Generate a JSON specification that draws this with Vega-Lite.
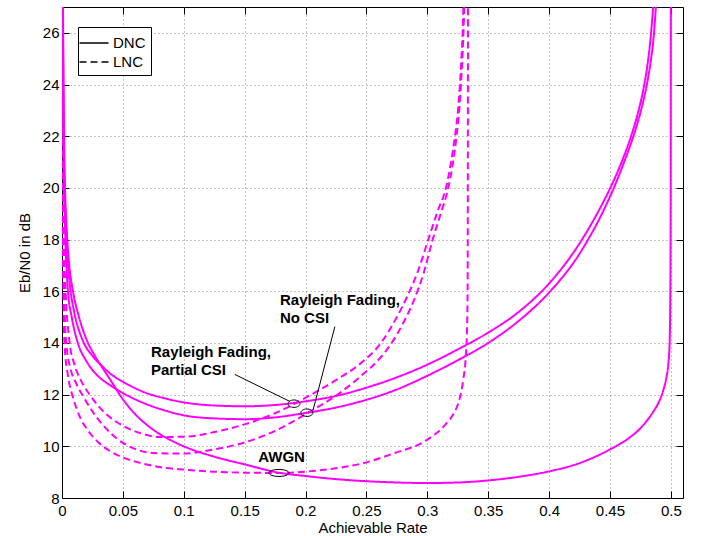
{
  "$schema": "https://vega.github.io/schema/vega-lite/v6.json",
  "width": 621,
  "height": 491,
  "autosize": {"type": "none"},
  "padding": {"left": 62, "top": 7, "right": 21, "bottom": 38},
  "background": "white",
  "datasets": {
    "curves": [
      {"s": "AWGN DNC", "t": "DNC", "x": 0.0008, "y": 27},
      {"s": "AWGN DNC", "t": "DNC", "x": 0.002, "y": 21.0},
      {"s": "AWGN DNC", "t": "DNC", "x": 0.004, "y": 18.3},
      {"s": "AWGN DNC", "t": "DNC", "x": 0.006, "y": 17.0},
      {"s": "AWGN DNC", "t": "DNC", "x": 0.009, "y": 16.0},
      {"s": "AWGN DNC", "t": "DNC", "x": 0.014, "y": 15.0},
      {"s": "AWGN DNC", "t": "DNC", "x": 0.02, "y": 14.15},
      {"s": "AWGN DNC", "t": "DNC", "x": 0.027, "y": 13.5},
      {"s": "AWGN DNC", "t": "DNC", "x": 0.034, "y": 12.98},
      {"s": "AWGN DNC", "t": "DNC", "x": 0.04, "y": 12.55},
      {"s": "AWGN DNC", "t": "DNC", "x": 0.05, "y": 11.82},
      {"s": "AWGN DNC", "t": "DNC", "x": 0.06, "y": 11.25},
      {"s": "AWGN DNC", "t": "DNC", "x": 0.07, "y": 10.82},
      {"s": "AWGN DNC", "t": "DNC", "x": 0.08, "y": 10.48},
      {"s": "AWGN DNC", "t": "DNC", "x": 0.09, "y": 10.22},
      {"s": "AWGN DNC", "t": "DNC", "x": 0.1, "y": 10.0},
      {"s": "AWGN DNC", "t": "DNC", "x": 0.125, "y": 9.6},
      {"s": "AWGN DNC", "t": "DNC", "x": 0.15, "y": 9.3},
      {"s": "AWGN DNC", "t": "DNC", "x": 0.178, "y": 8.98},
      {"s": "AWGN DNC", "t": "DNC", "x": 0.2, "y": 8.85},
      {"s": "AWGN DNC", "t": "DNC", "x": 0.225, "y": 8.73},
      {"s": "AWGN DNC", "t": "DNC", "x": 0.25, "y": 8.65},
      {"s": "AWGN DNC", "t": "DNC", "x": 0.275, "y": 8.6},
      {"s": "AWGN DNC", "t": "DNC", "x": 0.3, "y": 8.58},
      {"s": "AWGN DNC", "t": "DNC", "x": 0.325, "y": 8.6},
      {"s": "AWGN DNC", "t": "DNC", "x": 0.35, "y": 8.68},
      {"s": "AWGN DNC", "t": "DNC", "x": 0.375, "y": 8.82},
      {"s": "AWGN DNC", "t": "DNC", "x": 0.4, "y": 9.03},
      {"s": "AWGN DNC", "t": "DNC", "x": 0.425, "y": 9.35},
      {"s": "AWGN DNC", "t": "DNC", "x": 0.45, "y": 9.88},
      {"s": "AWGN DNC", "t": "DNC", "x": 0.465, "y": 10.3},
      {"s": "AWGN DNC", "t": "DNC", "x": 0.475, "y": 10.7},
      {"s": "AWGN DNC", "t": "DNC", "x": 0.485, "y": 11.3},
      {"s": "AWGN DNC", "t": "DNC", "x": 0.49, "y": 11.7},
      {"s": "AWGN DNC", "t": "DNC", "x": 0.494, "y": 12.2},
      {"s": "AWGN DNC", "t": "DNC", "x": 0.4965, "y": 12.7},
      {"s": "AWGN DNC", "t": "DNC", "x": 0.498, "y": 13.2},
      {"s": "AWGN DNC", "t": "DNC", "x": 0.499, "y": 14.0},
      {"s": "AWGN DNC", "t": "DNC", "x": 0.4996, "y": 16.0},
      {"s": "AWGN DNC", "t": "DNC", "x": 0.4999, "y": 20.0},
      {"s": "AWGN DNC", "t": "DNC", "x": 0.5, "y": 27},

      {"s": "Partial DNC", "t": "DNC", "x": 0.0006, "y": 27},
      {"s": "Partial DNC", "t": "DNC", "x": 0.0015, "y": 21.5},
      {"s": "Partial DNC", "t": "DNC", "x": 0.003, "y": 18.7},
      {"s": "Partial DNC", "t": "DNC", "x": 0.005, "y": 17.0},
      {"s": "Partial DNC", "t": "DNC", "x": 0.0071, "y": 16.0},
      {"s": "Partial DNC", "t": "DNC", "x": 0.01, "y": 15.2},
      {"s": "Partial DNC", "t": "DNC", "x": 0.017, "y": 14.1},
      {"s": "Partial DNC", "t": "DNC", "x": 0.025, "y": 13.5},
      {"s": "Partial DNC", "t": "DNC", "x": 0.033, "y": 13.1},
      {"s": "Partial DNC", "t": "DNC", "x": 0.04, "y": 12.8},
      {"s": "Partial DNC", "t": "DNC", "x": 0.05, "y": 12.5},
      {"s": "Partial DNC", "t": "DNC", "x": 0.06, "y": 12.25},
      {"s": "Partial DNC", "t": "DNC", "x": 0.07, "y": 12.05},
      {"s": "Partial DNC", "t": "DNC", "x": 0.085, "y": 11.85},
      {"s": "Partial DNC", "t": "DNC", "x": 0.1, "y": 11.7},
      {"s": "Partial DNC", "t": "DNC", "x": 0.125, "y": 11.58},
      {"s": "Partial DNC", "t": "DNC", "x": 0.15, "y": 11.55},
      {"s": "Partial DNC", "t": "DNC", "x": 0.175, "y": 11.6},
      {"s": "Partial DNC", "t": "DNC", "x": 0.2, "y": 11.74},
      {"s": "Partial DNC", "t": "DNC", "x": 0.225, "y": 11.95},
      {"s": "Partial DNC", "t": "DNC", "x": 0.25, "y": 12.27},
      {"s": "Partial DNC", "t": "DNC", "x": 0.275, "y": 12.67},
      {"s": "Partial DNC", "t": "DNC", "x": 0.3, "y": 13.16},
      {"s": "Partial DNC", "t": "DNC", "x": 0.325, "y": 13.75},
      {"s": "Partial DNC", "t": "DNC", "x": 0.35, "y": 14.4},
      {"s": "Partial DNC", "t": "DNC", "x": 0.375, "y": 15.2},
      {"s": "Partial DNC", "t": "DNC", "x": 0.4, "y": 16.3},
      {"s": "Partial DNC", "t": "DNC", "x": 0.425, "y": 17.85},
      {"s": "Partial DNC", "t": "DNC", "x": 0.44, "y": 19.05},
      {"s": "Partial DNC", "t": "DNC", "x": 0.45, "y": 19.97},
      {"s": "Partial DNC", "t": "DNC", "x": 0.46, "y": 21.05},
      {"s": "Partial DNC", "t": "DNC", "x": 0.467, "y": 21.95},
      {"s": "Partial DNC", "t": "DNC", "x": 0.473, "y": 22.9},
      {"s": "Partial DNC", "t": "DNC", "x": 0.478, "y": 23.95},
      {"s": "Partial DNC", "t": "DNC", "x": 0.4815, "y": 25.0},
      {"s": "Partial DNC", "t": "DNC", "x": 0.4838, "y": 26.0},
      {"s": "Partial DNC", "t": "DNC", "x": 0.4855, "y": 27},

      {"s": "NoCSI DNC", "t": "DNC", "x": 0.0005, "y": 27},
      {"s": "NoCSI DNC", "t": "DNC", "x": 0.0012, "y": 21.5},
      {"s": "NoCSI DNC", "t": "DNC", "x": 0.0025, "y": 18.5},
      {"s": "NoCSI DNC", "t": "DNC", "x": 0.0049, "y": 16.0},
      {"s": "NoCSI DNC", "t": "DNC", "x": 0.008, "y": 15.0},
      {"s": "NoCSI DNC", "t": "DNC", "x": 0.013, "y": 14.0},
      {"s": "NoCSI DNC", "t": "DNC", "x": 0.02, "y": 13.3},
      {"s": "NoCSI DNC", "t": "DNC", "x": 0.03, "y": 12.7},
      {"s": "NoCSI DNC", "t": "DNC", "x": 0.04, "y": 12.35},
      {"s": "NoCSI DNC", "t": "DNC", "x": 0.05, "y": 12.06},
      {"s": "NoCSI DNC", "t": "DNC", "x": 0.06, "y": 11.82},
      {"s": "NoCSI DNC", "t": "DNC", "x": 0.07, "y": 11.62},
      {"s": "NoCSI DNC", "t": "DNC", "x": 0.085, "y": 11.38},
      {"s": "NoCSI DNC", "t": "DNC", "x": 0.1, "y": 11.2},
      {"s": "NoCSI DNC", "t": "DNC", "x": 0.125, "y": 11.08},
      {"s": "NoCSI DNC", "t": "DNC", "x": 0.15, "y": 11.05},
      {"s": "NoCSI DNC", "t": "DNC", "x": 0.175, "y": 11.12},
      {"s": "NoCSI DNC", "t": "DNC", "x": 0.2, "y": 11.29},
      {"s": "NoCSI DNC", "t": "DNC", "x": 0.225, "y": 11.5},
      {"s": "NoCSI DNC", "t": "DNC", "x": 0.25, "y": 11.8},
      {"s": "NoCSI DNC", "t": "DNC", "x": 0.275, "y": 12.2},
      {"s": "NoCSI DNC", "t": "DNC", "x": 0.3, "y": 12.73},
      {"s": "NoCSI DNC", "t": "DNC", "x": 0.325, "y": 13.33},
      {"s": "NoCSI DNC", "t": "DNC", "x": 0.35, "y": 14.0},
      {"s": "NoCSI DNC", "t": "DNC", "x": 0.375, "y": 14.85},
      {"s": "NoCSI DNC", "t": "DNC", "x": 0.4, "y": 15.95},
      {"s": "NoCSI DNC", "t": "DNC", "x": 0.425, "y": 17.45},
      {"s": "NoCSI DNC", "t": "DNC", "x": 0.4308, "y": 17.9},
      {"s": "NoCSI DNC", "t": "DNC", "x": 0.445, "y": 19.15},
      {"s": "NoCSI DNC", "t": "DNC", "x": 0.4532, "y": 20.0},
      {"s": "NoCSI DNC", "t": "DNC", "x": 0.462, "y": 21.05},
      {"s": "NoCSI DNC", "t": "DNC", "x": 0.4696, "y": 22.05},
      {"s": "NoCSI DNC", "t": "DNC", "x": 0.4755, "y": 23.0},
      {"s": "NoCSI DNC", "t": "DNC", "x": 0.4803, "y": 24.0},
      {"s": "NoCSI DNC", "t": "DNC", "x": 0.4838, "y": 25.0},
      {"s": "NoCSI DNC", "t": "DNC", "x": 0.4862, "y": 26.0},
      {"s": "NoCSI DNC", "t": "DNC", "x": 0.4877, "y": 27},

      {"s": "Partial LNC", "t": "LNC", "x": 0.0002, "y": 27},
      {"s": "Partial LNC", "t": "LNC", "x": 0.0006, "y": 22.0},
      {"s": "Partial LNC", "t": "LNC", "x": 0.0012, "y": 19.0},
      {"s": "Partial LNC", "t": "LNC", "x": 0.0025, "y": 16.5},
      {"s": "Partial LNC", "t": "LNC", "x": 0.0063, "y": 14.0},
      {"s": "Partial LNC", "t": "LNC", "x": 0.01, "y": 13.2},
      {"s": "Partial LNC", "t": "LNC", "x": 0.015, "y": 12.6},
      {"s": "Partial LNC", "t": "LNC", "x": 0.0227, "y": 12.0},
      {"s": "Partial LNC", "t": "LNC", "x": 0.03, "y": 11.55},
      {"s": "Partial LNC", "t": "LNC", "x": 0.04, "y": 11.1},
      {"s": "Partial LNC", "t": "LNC", "x": 0.05, "y": 10.8},
      {"s": "Partial LNC", "t": "LNC", "x": 0.065, "y": 10.5},
      {"s": "Partial LNC", "t": "LNC", "x": 0.08, "y": 10.36},
      {"s": "Partial LNC", "t": "LNC", "x": 0.1, "y": 10.37},
      {"s": "Partial LNC", "t": "LNC", "x": 0.125, "y": 10.55},
      {"s": "Partial LNC", "t": "LNC", "x": 0.15, "y": 10.85},
      {"s": "Partial LNC", "t": "LNC", "x": 0.175, "y": 11.28},
      {"s": "Partial LNC", "t": "LNC", "x": 0.19, "y": 11.62},
      {"s": "Partial LNC", "t": "LNC", "x": 0.2, "y": 11.88},
      {"s": "Partial LNC", "t": "LNC", "x": 0.228, "y": 12.65},
      {"s": "Partial LNC", "t": "LNC", "x": 0.245, "y": 13.2},
      {"s": "Partial LNC", "t": "LNC", "x": 0.262, "y": 14.0},
      {"s": "Partial LNC", "t": "LNC", "x": 0.275, "y": 15.0},
      {"s": "Partial LNC", "t": "LNC", "x": 0.284, "y": 15.85},
      {"s": "Partial LNC", "t": "LNC", "x": 0.2925, "y": 16.8},
      {"s": "Partial LNC", "t": "LNC", "x": 0.3008, "y": 18.0},
      {"s": "Partial LNC", "t": "LNC", "x": 0.3085, "y": 19.1},
      {"s": "Partial LNC", "t": "LNC", "x": 0.3153, "y": 20.0},
      {"s": "Partial LNC", "t": "LNC", "x": 0.3195, "y": 21.0},
      {"s": "Partial LNC", "t": "LNC", "x": 0.3227, "y": 22.0},
      {"s": "Partial LNC", "t": "LNC", "x": 0.3252, "y": 23.0},
      {"s": "Partial LNC", "t": "LNC", "x": 0.3268, "y": 24.0},
      {"s": "Partial LNC", "t": "LNC", "x": 0.328, "y": 25.0},
      {"s": "Partial LNC", "t": "LNC", "x": 0.329, "y": 26.0},
      {"s": "Partial LNC", "t": "LNC", "x": 0.3296, "y": 27},

      {"s": "NoCSI LNC", "t": "LNC", "x": 0.0002, "y": 27},
      {"s": "NoCSI LNC", "t": "LNC", "x": 0.0005, "y": 22.0},
      {"s": "NoCSI LNC", "t": "LNC", "x": 0.001, "y": 18.5},
      {"s": "NoCSI LNC", "t": "LNC", "x": 0.002, "y": 15.6},
      {"s": "NoCSI LNC", "t": "LNC", "x": 0.0035, "y": 14.0},
      {"s": "NoCSI LNC", "t": "LNC", "x": 0.007, "y": 13.0},
      {"s": "NoCSI LNC", "t": "LNC", "x": 0.0115, "y": 12.45},
      {"s": "NoCSI LNC", "t": "LNC", "x": 0.0172, "y": 11.95},
      {"s": "NoCSI LNC", "t": "LNC", "x": 0.025, "y": 11.35},
      {"s": "NoCSI LNC", "t": "LNC", "x": 0.035, "y": 10.75},
      {"s": "NoCSI LNC", "t": "LNC", "x": 0.045, "y": 10.3},
      {"s": "NoCSI LNC", "t": "LNC", "x": 0.06, "y": 9.9},
      {"s": "NoCSI LNC", "t": "LNC", "x": 0.075, "y": 9.74},
      {"s": "NoCSI LNC", "t": "LNC", "x": 0.1, "y": 9.72},
      {"s": "NoCSI LNC", "t": "LNC", "x": 0.125, "y": 9.88},
      {"s": "NoCSI LNC", "t": "LNC", "x": 0.15, "y": 10.15},
      {"s": "NoCSI LNC", "t": "LNC", "x": 0.175, "y": 10.6},
      {"s": "NoCSI LNC", "t": "LNC", "x": 0.2017, "y": 11.29},
      {"s": "NoCSI LNC", "t": "LNC", "x": 0.228, "y": 12.06},
      {"s": "NoCSI LNC", "t": "LNC", "x": 0.245, "y": 12.7},
      {"s": "NoCSI LNC", "t": "LNC", "x": 0.26, "y": 13.35},
      {"s": "NoCSI LNC", "t": "LNC", "x": 0.27, "y": 13.95},
      {"s": "NoCSI LNC", "t": "LNC", "x": 0.28, "y": 14.75},
      {"s": "NoCSI LNC", "t": "LNC", "x": 0.289, "y": 15.65},
      {"s": "NoCSI LNC", "t": "LNC", "x": 0.297, "y": 16.7},
      {"s": "NoCSI LNC", "t": "LNC", "x": 0.3044, "y": 18.0},
      {"s": "NoCSI LNC", "t": "LNC", "x": 0.311, "y": 19.0},
      {"s": "NoCSI LNC", "t": "LNC", "x": 0.3172, "y": 20.0},
      {"s": "NoCSI LNC", "t": "LNC", "x": 0.3212, "y": 21.0},
      {"s": "NoCSI LNC", "t": "LNC", "x": 0.324, "y": 22.0},
      {"s": "NoCSI LNC", "t": "LNC", "x": 0.3262, "y": 23.0},
      {"s": "NoCSI LNC", "t": "LNC", "x": 0.3276, "y": 24.0},
      {"s": "NoCSI LNC", "t": "LNC", "x": 0.3288, "y": 25.0},
      {"s": "NoCSI LNC", "t": "LNC", "x": 0.3297, "y": 26.0},
      {"s": "NoCSI LNC", "t": "LNC", "x": 0.3303, "y": 27},

      {"s": "AWGN LNC", "t": "LNC", "x": 0.0001, "y": 27},
      {"s": "AWGN LNC", "t": "LNC", "x": 0.0004, "y": 20.0},
      {"s": "AWGN LNC", "t": "LNC", "x": 0.001, "y": 16.5},
      {"s": "AWGN LNC", "t": "LNC", "x": 0.002, "y": 14.0},
      {"s": "AWGN LNC", "t": "LNC", "x": 0.005, "y": 12.7},
      {"s": "AWGN LNC", "t": "LNC", "x": 0.009, "y": 11.9},
      {"s": "AWGN LNC", "t": "LNC", "x": 0.015, "y": 11.1},
      {"s": "AWGN LNC", "t": "LNC", "x": 0.02, "y": 10.7},
      {"s": "AWGN LNC", "t": "LNC", "x": 0.03, "y": 10.15},
      {"s": "AWGN LNC", "t": "LNC", "x": 0.04, "y": 9.8},
      {"s": "AWGN LNC", "t": "LNC", "x": 0.05, "y": 9.57},
      {"s": "AWGN LNC", "t": "LNC", "x": 0.065, "y": 9.35},
      {"s": "AWGN LNC", "t": "LNC", "x": 0.08, "y": 9.2},
      {"s": "AWGN LNC", "t": "LNC", "x": 0.1, "y": 9.1},
      {"s": "AWGN LNC", "t": "LNC", "x": 0.125, "y": 9.02},
      {"s": "AWGN LNC", "t": "LNC", "x": 0.15, "y": 8.98},
      {"s": "AWGN LNC", "t": "LNC", "x": 0.178, "y": 8.97},
      {"s": "AWGN LNC", "t": "LNC", "x": 0.2, "y": 9.02},
      {"s": "AWGN LNC", "t": "LNC", "x": 0.225, "y": 9.15},
      {"s": "AWGN LNC", "t": "LNC", "x": 0.245, "y": 9.32},
      {"s": "AWGN LNC", "t": "LNC", "x": 0.272, "y": 9.72},
      {"s": "AWGN LNC", "t": "LNC", "x": 0.3, "y": 10.26},
      {"s": "AWGN LNC", "t": "LNC", "x": 0.315, "y": 10.85},
      {"s": "AWGN LNC", "t": "LNC", "x": 0.322, "y": 11.3},
      {"s": "AWGN LNC", "t": "LNC", "x": 0.326, "y": 11.75},
      {"s": "AWGN LNC", "t": "LNC", "x": 0.3296, "y": 12.6},
      {"s": "AWGN LNC", "t": "LNC", "x": 0.3315, "y": 13.4},
      {"s": "AWGN LNC", "t": "LNC", "x": 0.3326, "y": 14.5},
      {"s": "AWGN LNC", "t": "LNC", "x": 0.3331, "y": 16.0},
      {"s": "AWGN LNC", "t": "LNC", "x": 0.3333, "y": 20.0},
      {"s": "AWGN LNC", "t": "LNC", "x": 0.3334, "y": 27}
    ],
    "labels": [
      {"t": "Rayleigh Fading,", "x": 0.179, "y": 15.65},
      {"t": "No CSI", "x": 0.179, "y": 14.97},
      {"t": "Rayleigh Fading,", "x": 0.0731, "y": 13.64},
      {"t": "Partial CSI", "x": 0.0731, "y": 12.97},
      {"t": "AWGN", "x": 0.1612, "y": 9.58}
    ],
    "pointers": [
      {"x": 0.142, "y": 12.78, "x2": 0.187, "y2": 11.74},
      {"x": 0.2241, "y": 14.63, "x2": 0.2063, "y2": 11.42}
    ],
    "smallEllipses": [
      {"x": 0.1905, "y": 11.65},
      {"x": 0.2011, "y": 11.3}
    ],
    "wideEllipses": [
      {"x": 0.1782, "y": 8.97}
    ]
  },
  "layer": [
    {
      "data": {"name": "curves"},
      "mark": {"type": "line", "color": "#ff00ff", "strokeWidth": 2, "clip": true, "interpolate": "monotone"},
      "encoding": {
        "x": {
          "field": "x", "type": "quantitative",
          "scale": {"domain": [0, 0.51], "nice": false, "zero": false},
          "axis": {"title": "Achievable Rate", "values": [0, 0.05, 0.1, 0.15, 0.2, 0.25, 0.3, 0.35, 0.4, 0.45, 0.5], "format": "~g", "ticks": false, "labelPadding": 5, "titlePadding": 2, "labelFlush": false}
        },
        "y": {
          "field": "y", "type": "quantitative",
          "scale": {"domain": [8, 27], "nice": false, "zero": false},
          "axis": {"title": "Eb/N0 in dB", "values": [8, 10, 12, 14, 16, 18, 20, 22, 24, 26], "ticks": false, "labelPadding": 3, "titlePadding": 10}
        },
        "detail": {"field": "s", "type": "nominal"},
        "strokeDash": {
          "field": "t", "type": "nominal",
          "scale": {"domain": ["DNC", "LNC"], "range": [[1, 0], [7, 4]]},
          "legend": {
            "title": null, "orient": "none", "legendX": 16, "legendY": 20,
            "symbolType": "M-1.45,0L1.45,0", "symbolSize": 400,
            "symbolStrokeColor": "#000", "symbolFillColor": "transparent", "symbolStrokeWidth": 1.5,
            "labelFont": "Liberation Sans", "labelFontSize": 15, "labelColor": "#000", "labelOffset": 8,
            "fillColor": "#fff", "strokeColor": "#000", "padding": 5, "rowPadding": 0
          }
        }
      }
    },
    {
      "data": {"name": "pointers"},
      "mark": {"type": "rule", "color": "#000", "strokeWidth": 1},
      "encoding": {
        "x": {"field": "x", "type": "quantitative", "axis": null},
        "y": {"field": "y", "type": "quantitative", "axis": null},
        "x2": {"field": "x2"},
        "y2": {"field": "y2"}
      }
    },
    {
      "data": {"name": "smallEllipses"},
      "mark": {"type": "point", "shape": "M-1,0A1,0.62,0,1,0,1,0A1,0.62,0,1,0,-1,0Z", "size": 144, "filled": false, "color": "#000", "strokeWidth": 1, "opacity": 1},
      "encoding": {
        "x": {"field": "x", "type": "quantitative", "axis": {"orient": "bottom", "offset": -7, "labels": false, "title": null, "grid": false, "domain": false, "ticks": true, "tickSize": 7, "tickColor": "#000", "tickWidth": 1, "values": [0.05, 0.1, 0.15, 0.2, 0.25, 0.3, 0.35, 0.4, 0.45, 0.5]}},
        "y": {"field": "y", "type": "quantitative", "axis": {"orient": "left", "offset": -7, "labels": false, "title": null, "grid": false, "domain": false, "ticks": true, "tickSize": 7, "tickColor": "#000", "tickWidth": 1, "values": [10, 12, 14, 16, 18, 20, 22, 24, 26]}}
      }
    },
    {
      "data": {"name": "wideEllipses"},
      "mark": {"type": "point", "shape": "M-1,0A1,0.35,0,1,0,1,0A1,0.35,0,1,0,-1,0Z", "size": 400, "filled": false, "color": "#000", "strokeWidth": 1, "opacity": 1},
      "encoding": {
        "x": {"field": "x", "type": "quantitative", "axis": null},
        "y": {"field": "y", "type": "quantitative", "axis": null}
      }
    },
    {
      "data": {"name": "labels"},
      "mark": {"type": "text", "align": "left", "baseline": "middle", "font": "Liberation Sans", "fontSize": 15, "fontWeight": "bold", "color": "#000"},
      "encoding": {
        "x": {"field": "x", "type": "quantitative", "axis": {"orient": "top", "offset": -7, "labels": false, "title": null, "grid": false, "domain": false, "ticks": true, "tickSize": 7, "tickColor": "#000", "tickWidth": 1, "values": [0.05, 0.1, 0.15, 0.2, 0.25, 0.3, 0.35, 0.4, 0.45, 0.5]}},
        "y": {"field": "y", "type": "quantitative", "axis": {"orient": "right", "offset": -7, "labels": false, "title": null, "grid": false, "domain": false, "ticks": true, "tickSize": 7, "tickColor": "#000", "tickWidth": 1, "values": [10, 12, 14, 16, 18, 20, 22, 24, 26]}},
        "text": {"field": "t", "type": "nominal"}
      }
    }
  ],
  "resolve": {"axis": {"x": "independent", "y": "independent"}},
  "config": {
    "view": {"stroke": "#000", "strokeWidth": 1},
    "axis": {
      "labelFont": "Liberation Sans", "labelFontSize": 15, "labelColor": "#000",
      "titleFont": "Liberation Sans", "titleFontSize": 15, "titleFontWeight": "normal", "titleColor": "#000",
      "gridColor": "#888", "gridDash": [1, 3], "gridWidth": 1, "gridOpacity": 1,
      "domainColor": "#000", "domainWidth": 1
    }
  }
}
